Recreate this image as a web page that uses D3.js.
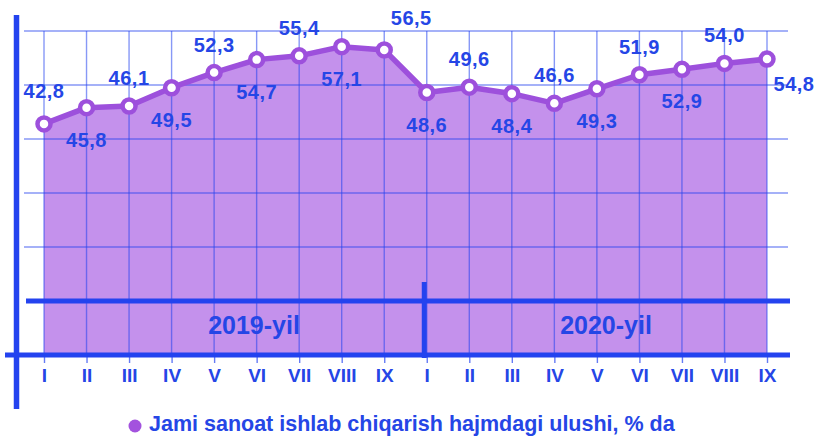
<!DOCTYPE html>
<html>
<head>
<meta charset="utf-8">
<script src="https://cdn.jsdelivr.net/npm/d3@7"></script>
<style>
  body { margin: 0; background: #fff; }
  text { font-family: "Liberation Sans", Arial, sans-serif; font-weight: bold; }
</style>
</head>
<body>
<div id="chart"></div>
<script>
// Chart data
const months = ["I", "II", "III", "IV", "V", "VI", "VII", "VIII", "IX",
                "I", "II", "III", "IV", "V", "VI", "VII", "VIII", "IX"];
const values = [42.8, 45.8, 46.1, 49.5, 52.3, 54.7, 55.4, 57.1, 56.5,
                48.6, 49.6, 48.4, 46.6, 49.3, 51.9, 52.9, 54.0, 54.8];
const years = ["2019-yil", "2020-yil"];
const yTicks = [0, 10, 20, 30, 40, 50, 60];
const legendLabel = "Jami sanoat ishlab chiqarish hajmdagi ulushi, % da";

const W = 816, H = 436;
const BLUE = "#2443ef";
const LABEL = "#2546e6";
const PURPLE = "#9d50dc";
const AREA = "#c491ec";

let svg = d3.select("#chart").append("svg")
  .attr("width", W).attr("height", H);

let x = d3.scalePoint().domain(d3.range(values.length)).range([44, 767]);
let y = d3.scaleLinear().domain([0, 60]).range([355, 31]);

// filled area under the line
let area = d3.area().x((d, i) => x(i)).y0(y(0)).y1(d => y(d));
svg.append("path").datum(values)
  .attr("d", area).attr("fill", AREA);

// thin grid lines
svg.selectAll("line.hgrid").data(yTicks.filter(t => t > 10)).enter()
  .append("line").attr("class", "hgrid")
  .attr("x1", 24).attr("x2", 788)
  .attr("y1", d => y(d)).attr("y2", d => y(d))
  .attr("stroke", BLUE).attr("stroke-opacity", 0.55).attr("stroke-width", 1.6);

svg.selectAll("line.vgrid").data(d3.range(values.length)).enter()
  .append("line").attr("class", "vgrid")
  .attr("x1", d => x(d)).attr("x2", d => x(d))
  .attr("y1", y(60)).attr("y2", y(0))
  .attr("stroke", BLUE).attr("stroke-opacity", 0.55).attr("stroke-width", 1.4);

// x axis with month ticks
let xAxis = svg.append("g")
  .attr("transform", `translate(0,${y(0)})`)
  .call(d3.axisBottom(x).tickSize(8).tickPadding(6).tickFormat(i => months[i]));
xAxis.select(".domain").remove();
xAxis.selectAll(".tick line").attr("stroke", BLUE).attr("stroke-opacity", 0.7)
  .attr("stroke-width", 1.4);
xAxis.selectAll(".tick text").attr("fill", LABEL).attr("font-size", 19)
  .style("font-family", "'Liberation Sans', Arial, sans-serif");

// thick frame lines
svg.append("line").attr("x1", 26).attr("x2", 790)
  .attr("y1", y(10)).attr("y2", y(10))
  .attr("stroke", BLUE).attr("stroke-width", 5);
svg.append("line").attr("x1", 5).attr("x2", 790)
  .attr("y1", y(0)).attr("y2", y(0))
  .attr("stroke", BLUE).attr("stroke-width", 5);
svg.append("line").attr("x1", 16.5).attr("x2", 16.5)
  .attr("y1", 15).attr("y2", 409)
  .attr("stroke", BLUE).attr("stroke-width", 5.5);

// year separator
let sepX = x(9) - 2.5;
svg.append("line").attr("x1", sepX).attr("x2", sepX)
  .attr("y1", 282).attr("y2", 358)
  .attr("stroke", BLUE).attr("stroke-width", 5);

// year labels
svg.selectAll("text.year").data(years).enter()
  .append("text").attr("class", "year")
  .attr("x", (d, i) => i === 0 ? 254 : 606)
  .attr("y", 334)
  .attr("text-anchor", "middle")
  .attr("font-size", 25)
  .attr("fill", LABEL)
  .text(d => d);

// line + markers
let line = d3.line().x((d, i) => x(i)).y(d => y(d));
svg.append("path").datum(values)
  .attr("d", line).attr("fill", "none")
  .attr("stroke", PURPLE).attr("stroke-width", 5.5)
  .attr("stroke-linejoin", "round");

svg.selectAll("circle.pt").data(values).enter()
  .append("circle").attr("class", "pt")
  .attr("cx", (d, i) => x(i)).attr("cy", d => y(d))
  .attr("r", 6.5)
  .attr("fill", "#fff").attr("stroke", PURPLE).attr("stroke-width", 4.5);

// value labels, alternating above / below
const fmt = v => d3.format(".1f")(v).replace(".", ",");
svg.selectAll("text.val").data(values).enter()
  .append("text").attr("class", "val")
  .attr("x", (d, i) => {
    if (i === 8) return x(i) + 27;
    if (i === values.length - 1) return x(i) + 27;
    return x(i);
  })
  .attr("y", (d, i) => {
    let dy = i % 2 === 0 ? -28 : 32;
    if (i === 0) dy = -33;
    if (i === 8) dy = -32;
    if (i === values.length - 1) dy = 25;
    return y(d) + dy;
  })
  .attr("dy", "0.35em")
  .attr("text-anchor", "middle")
  .attr("font-size", 20)
  .attr("letter-spacing", 0.5)
  .attr("fill", LABEL)
  .text(d => fmt(d));

// legend
svg.append("circle").attr("cx", 135).attr("cy", 426).attr("r", 6.5)
  .attr("fill", "#a352de");
svg.append("text").attr("x", 149).attr("y", 431)
  .attr("font-size", 21.5).attr("fill", LABEL)
  .text(legendLabel);
</script>
</body>
</html>
